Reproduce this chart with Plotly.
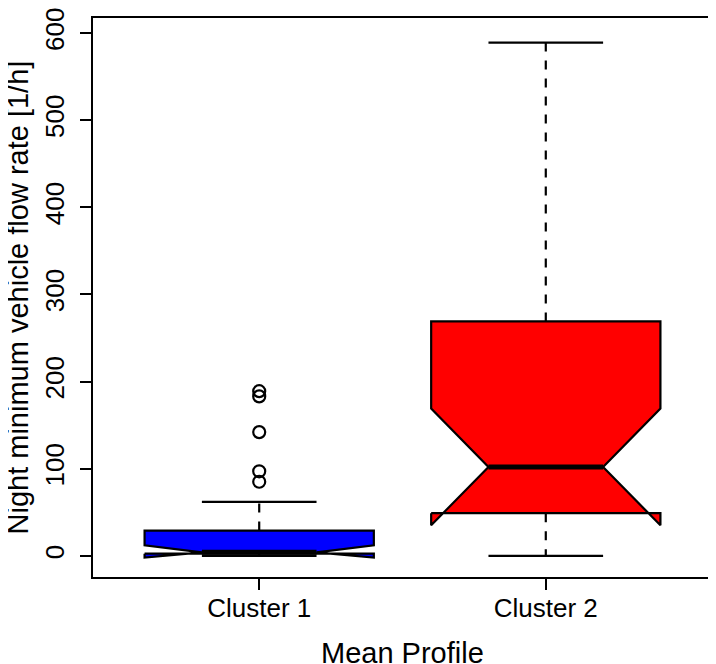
import plotly.graph_objects as go

# box statistics (R-style notched boxplot)
clusters = ["Cluster 1", "Cluster 2"]
positions = [1, 2]
whisker_low = [0, 0]
q1 = [2.5, 49]
median = [4, 102]
q3 = [29, 269]
whisker_high = [62, 589]
notch_low = [-2, 35]
notch_high = [12, 169]
fill_colors = ["#0000ff", "#ff0000"]

# outliers of cluster 1
outliers_c1 = [85, 97, 142, 183, 189]

box_w = 0.4      # half width of box
line_w = 2.2

fig = go.Figure()

for i in range(2):
    x = positions[i]
    xs = [x - box_w, x + box_w, x + box_w, x + box_w * 0.5, x + box_w, x + box_w,
          x - box_w, x - box_w, x - box_w * 0.5, x - box_w, x - box_w]
    ys = [q1[i], q1[i], notch_low[i], median[i], notch_high[i], q3[i],
          q3[i], notch_high[i], median[i], notch_low[i], q1[i]]
    fig.add_trace(go.Scatter(x=xs, y=ys, mode="lines", fill="toself",
                             fillcolor=fill_colors[i],
                             line=dict(color="black", width=line_w),
                             hoverinfo="skip", showlegend=False))
    # whiskers
    for a, b in [(q3[i], whisker_high[i]), (q1[i], whisker_low[i])]:
        fig.add_trace(go.Scatter(x=[x, x], y=[a, b], mode="lines",
                                 line=dict(color="black", width=line_w, dash="9px,9px"),
                                 hoverinfo="skip", showlegend=False))
    # staples
    for v in [whisker_low[i], whisker_high[i]]:
        fig.add_trace(go.Scatter(x=[x - box_w / 2, x + box_w / 2], y=[v, v], mode="lines",
                                 line=dict(color="black", width=line_w),
                                 hoverinfo="skip", showlegend=False))
    # median
    fig.add_trace(go.Scatter(x=[x - box_w / 2, x + box_w / 2], y=[median[i], median[i]],
                             mode="lines", line=dict(color="black", width=5),
                             hoverinfo="skip", showlegend=False))

fig.add_trace(go.Scatter(x=[positions[0]] * len(outliers_c1), y=outliers_c1, mode="markers",
                         marker=dict(symbol="circle-open", size=12, color="black",
                                     line=dict(width=2.2)),
                         showlegend=False))

font = dict(family="Liberation Sans, Arial, sans-serif", size=26, color="black")
title_font = dict(family="Liberation Sans, Arial, sans-serif", size=29, color="black")

# page body has an 8px margin, so the figure is a bit smaller than the window
fig.update_layout(
    width=708, height=656,
    margin=dict(l=85, r=4, t=0, b=87),
    plot_bgcolor="white", paper_bgcolor="white",
    font=font,
    showlegend=False,
    xaxis=dict(range=[0.42, 2.58], tickvals=positions, ticktext=clusters,
               ticklabelstandoff=-4,
               showgrid=False, zeroline=False, showline=True, mirror=True,
               linecolor="black", linewidth=1.5, ticks="outside", ticklen=11,
               tickwidth=1.5, tickcolor="black"),
    yaxis=dict(range=[-24.3, 617.3], tickvals=[0, 100, 200, 300, 400, 500, 600],
               tickangle=-90, ticklabeloverflow="allow", ticklabelstandoff=6,
               showgrid=False, zeroline=False, showline=True, mirror=True,
               linecolor="black", linewidth=1.5, ticks="outside", ticklen=11,
               tickwidth=1.5, tickcolor="black"),
    annotations=[
        dict(text="Mean Profile", xref="paper", yref="paper", x=0.5, y=0,
             xanchor="center", yanchor="middle", yshift=-76, showarrow=False,
             font=title_font),
        dict(text="Night minimum vehicle flow rate [1/h]", xref="paper", yref="paper",
             x=0, y=0.5, xanchor="center", yanchor="middle", xshift=-76, textangle=-90,
             showarrow=False, font=title_font),
    ],
)

fig.write_html("out.html")
